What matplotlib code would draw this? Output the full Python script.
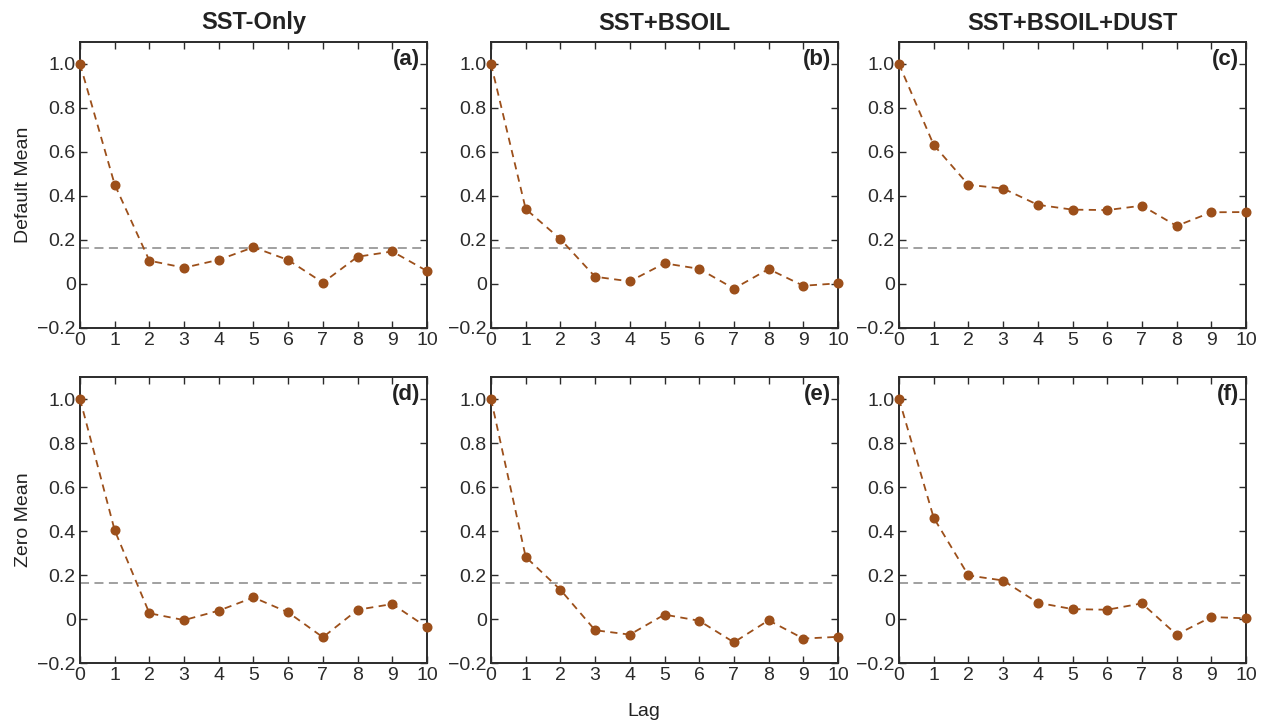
import matplotlib
matplotlib.use("Agg")
import matplotlib.pyplot as plt
import numpy as np

plt.rcParams['font.family'] = ['Liberation Sans', 'DejaVu Sans']
plt.rcParams['axes.unicode_minus'] = True

lags = list(range(11))
col_titles = ["SST-Only", "SST+BSOIL", "SST+BSOIL+DUST"]
row_labels = ["Default Mean", "Zero Mean"]
panel_labels = ["(a)", "(b)", "(c)", "(d)", "(e)", "(f)"]

acf_a = [1.0, 0.452, 0.106, 0.074, 0.110, 0.167, 0.109, 0.006, 0.124, 0.148, 0.059]
acf_b = [1.0, 0.341, 0.204, 0.033, 0.012, 0.094, 0.069, -0.021, 0.068, -0.008, 0.003]
acf_c = [1.0, 0.632, 0.451, 0.434, 0.360, 0.338, 0.336, 0.356, 0.264, 0.326, 0.327]
acf_d = [1.0, 0.403, 0.026, -0.005, 0.038, 0.098, 0.030, -0.083, 0.042, 0.068, -0.038]
acf_e = [1.0, 0.282, 0.133, -0.051, -0.071, 0.020, -0.008, -0.106, -0.006, -0.089, -0.081]
acf_f = [1.0, 0.460, 0.198, 0.175, 0.074, 0.045, 0.042, 0.071, -0.071, 0.009, 0.003]
threshold = 0.165

yticks = [-0.2, 0, 0.2, 0.4, 0.6, 0.8, 1.0]
ytick_labels = ["\u22120.2", "0", "0.2", "0.4", "0.6", "0.8", "1.0"]

series = [acf_a, acf_b, acf_c, acf_d, acf_e, acf_f]

fig = plt.figure(figsize=(12.66, 7.23), dpi=100)
W, H = 1266, 723
lefts = [80, 491, 899]
width = 347
tops = [42, 377]
height = 286

line_color = "#9c4f1a"
spine_color = "#2b2b2b"
text_color = "#222222"

for i in range(6):
    r, c = divmod(i, 3)
    ax = fig.add_axes([lefts[c] / W, 1 - (tops[r] + height) / H, width / W, height / H])
    ax.axhline(threshold, color="#999999", linestyle=(0, (5, 3)), linewidth=1.3, zorder=1)
    ax.plot(lags, series[i], color=line_color, linestyle=(0, (4, 3)), linewidth=1.3,
            marker="o", markersize=6.2, markerfacecolor=line_color,
            markeredgecolor=line_color, zorder=3, clip_on=False)
    ax.set_xlim(0, 10)
    ax.set_ylim(-0.2, 1.1)
    ax.set_xticks(lags)
    ax.set_yticks(yticks)
    ax.set_yticklabels(ytick_labels)
    ax.tick_params(direction="in", top=True, right=True, length=5, width=1,
                   labelsize=14, colors=spine_color, pad=3)
    for s in ax.spines.values():
        s.set_color(spine_color)
        s.set_linewidth(1.4)
    ax.text(0.98, 0.975, panel_labels[i], transform=ax.transAxes, ha="right", va="top",
            fontsize=16, fontweight="bold", color=text_color)
    if r == 0:
        ax.set_title(col_titles[c], fontsize=17, fontweight="bold", color=text_color, pad=9)
    if c == 0:
        ax.set_ylabel(row_labels[r], fontsize=14, color=text_color, labelpad=4)

fig.text(644 / W, 1 - 711 / H, "Lag", ha="center", va="center", fontsize=14, color=text_color)

fig.savefig("out.png", dpi=100)
